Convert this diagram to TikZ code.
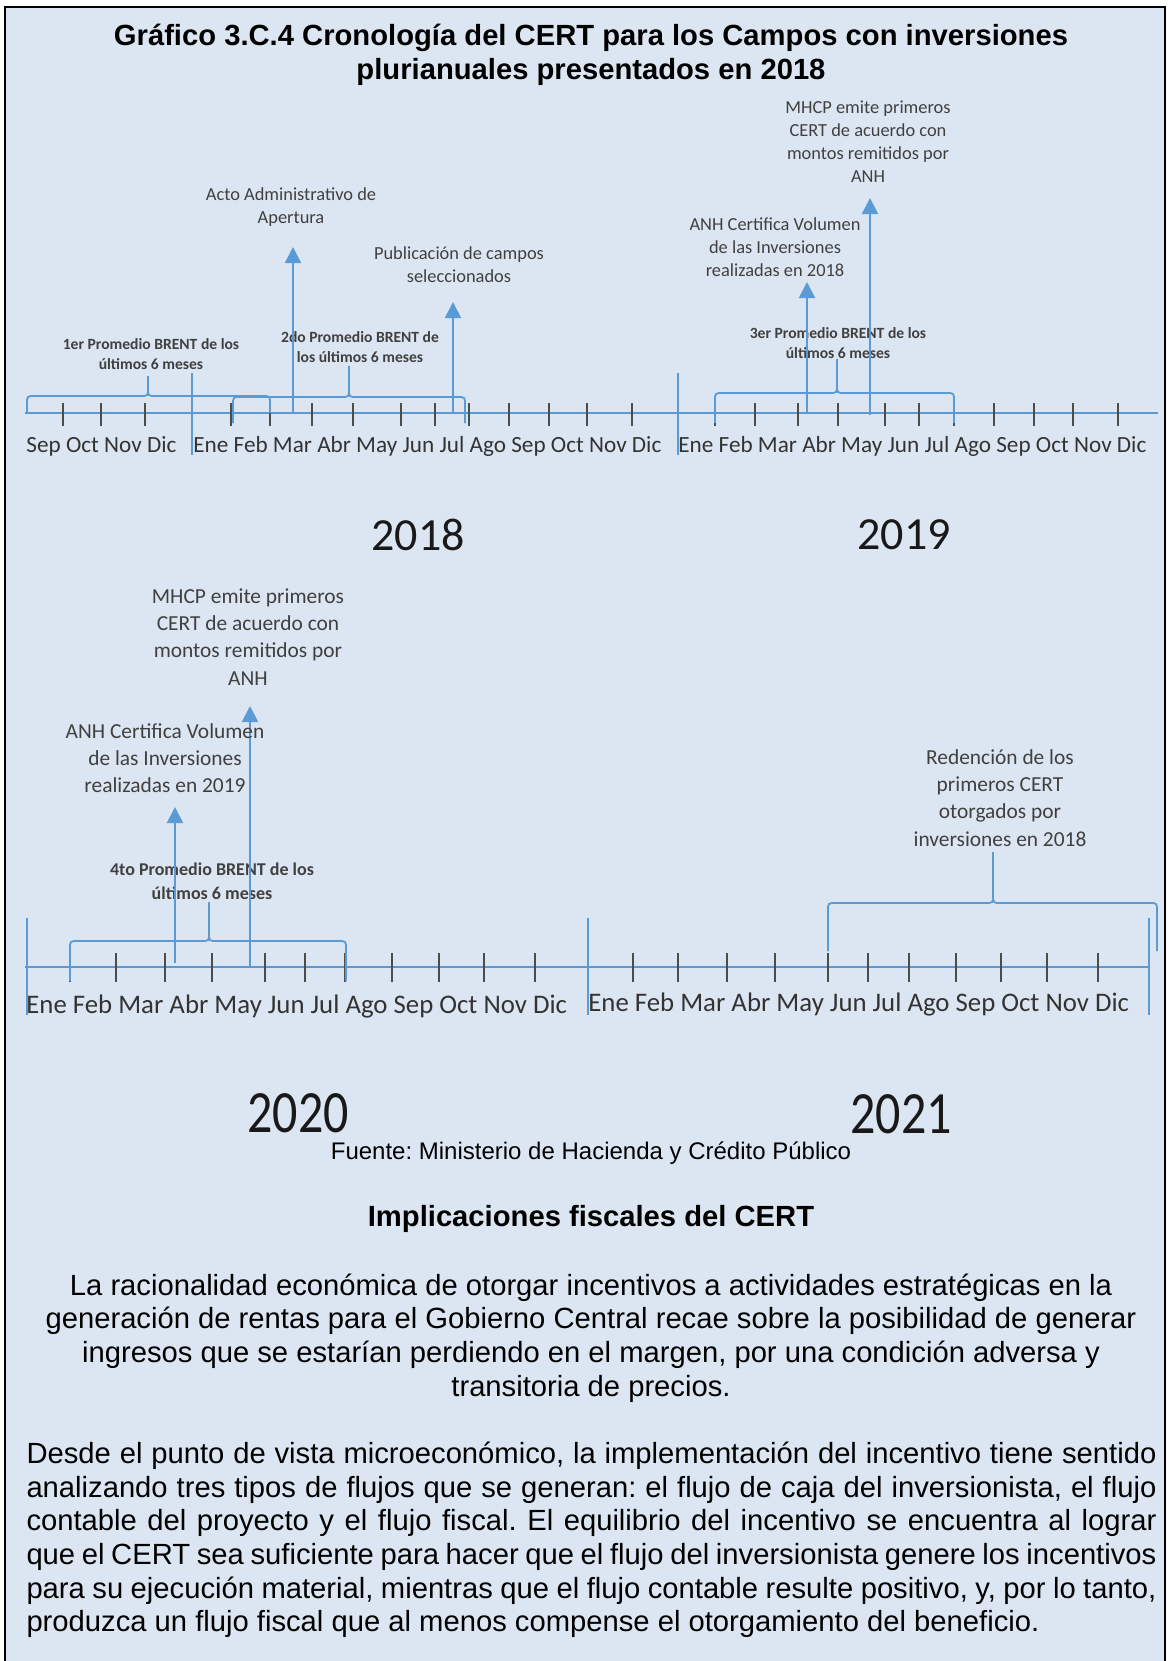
\documentclass[tikz,border=0pt]{standalone}
\usepackage{fontspec}
\setmainfont{Liberation Sans}
\newfontfamily\carlito{Carlito}
\usetikzlibrary{arrows.meta}
\frenchspacing

\definecolor{panelfill}{RGB}{220,230,242}
\definecolor{lineblue}{RGB}{91,155,213}
\definecolor{labelgray}{RGB}{64,64,64}

\tikzset{
  axisline/.style={lineblue, line width=1pt},
  tickmark/.style={black!70, line width=0.7pt},
  yearsep/.style={lineblue, line width=1.4pt},
  eventarrow/.style={lineblue, line width=1pt, -{Triangle[width=8pt,length=8pt]}},
  bracestyle/.style={lineblue, line width=0.9pt},
  evlabel/.style={text=labelgray, align=center, inner sep=0pt, font=\carlito\fontsize{9.2}{11.5}\selectfont},
  evlabelbig/.style={evlabel, font=\carlito\fontsize{10.7}{13.6}\selectfont},
  brentlabel/.style={evlabel, font=\carlito\bfseries\fontsize{7.8}{10}\selectfont},
  brentlabelbig/.style={evlabel, font=\carlito\bfseries\fontsize{9}{12}\selectfont},
  monthrow/.style={text=black!80, inner sep=0pt, anchor=west, font=\carlito\fontsize{11.6}{13}\selectfont},
  monthrowbig/.style={monthrow, font=\carlito\fontsize{13.4}{15}\selectfont},
  yearlabel/.style={text=black!90, inner sep=0pt, font=\carlito\fontsize{23}{26}\selectfont},
  yearlabelbig/.style={yearlabel, font=\carlito\fontsize{25}{28}\selectfont, yscale=1.2},
  bodytext/.style={inner sep=0pt, align=center, font=\fontsize{14.6}{16.85}\selectfont}
}

% brace: left x, right x, tip x, line y, end y, tip y
\newcommand{\cronobrace}[6]{%
  \draw[bracestyle] (#1,#5) -- (#1,#4+8) .. controls (#1,#4) .. (#1+8,#4)
    -- (#3-8,#4) .. controls (#3,#4) .. (#3,#4-8) -- (#3,#6)
    (#3,#4-8) .. controls (#3,#4) .. (#3+8,#4)
    -- (#2-8,#4) .. controls (#2,#4) .. (#2,#4+8) -- (#2,#5);
}
\newcommand{\fullline}[1]{\makebox[565pt][s]{#1}}

\begin{document}
\begin{tikzpicture}[x=0.5pt,y=-0.5pt]
\useasboundingbox (0,0) rectangle (1169,1661);
\fill[white] (0,0) rectangle (1169,1661);
\draw[black, line width=1pt, fill=panelfill] (5,7) rectangle (1165,1690);

% title
\node[bodytext, font=\bfseries\fontsize{14.6}{17}\selectfont] (title) at (591,55)
  {Gráfico 3.C.4 Cronología del CERT para los Campos con inversiones\\plurianuales presentados en 2018};

% ---------- timeline 2018-2019 ----------
\draw[axisline] (25,413) -- (1158,413);
\foreach \tx in {63,101,145,231,270,312,353,401,435,469,509,549,587,632,715,755,798,838,885,919,954,994,1034,1073,1118}
  \draw[tickmark] (\tx,403) -- (\tx,426);
\foreach \sx in {192,678}
  \draw[yearsep] (\sx,373) -- (\sx,455);

\node[monthrow] (m17) at (26,446) {Sep Oct Nov Dic};
\node[monthrow] (m18) at (193,446) {Ene Feb Mar Abr May Jun Jul Ago Sep Oct Nov Dic};
\node[monthrow] (m19) at (678,446) {Ene Feb Mar Abr May Jun Jul Ago Sep Oct Nov Dic};
\node[yearlabel] (y18) at (418,535) {2018};
\node[yearlabel] (y19) at (904,535) {2019};

\cronobrace{27}{270}{148}{396}{413}{376}
\cronobrace{233}{465}{349}{397}{423}{366}
\cronobrace{715}{954}{837}{393}{423}{359}

\node[brentlabel] (brent1) at (151,354) {1er Promedio BRENT de los\\últimos 6 meses};
\node[brentlabel] (brent2) at (360,347) {2do Promedio BRENT de\\los últimos 6 meses};
\node[brentlabel] (brent3) at (838,343) {3er Promedio BRENT de los\\últimos 6 meses};

\coordinate (actoBase) at (293,413);   \coordinate (actoTip) at (293,247);
\coordinate (pubBase) at (453,412);    \coordinate (pubTip) at (453,302);
\coordinate (anhaBase) at (807,412);   \coordinate (anhaTip) at (807,282);
\coordinate (mhcpaBase) at (870,415);  \coordinate (mhcpaTip) at (870,198);
\draw[eventarrow] (actoBase) -- (actoTip);
\draw[eventarrow] (pubBase) -- (pubTip);
\draw[eventarrow] (anhaBase) -- (anhaTip);
\draw[eventarrow] (mhcpaBase) -- (mhcpaTip);

\node[evlabel] (acto) at (291,207) {Acto Administrativo de\\Apertura};
\node[evlabel] (pub) at (459,265) {Publicación de campos\\seleccionados};
\node[evlabel] (anha) at (775,247) {ANH Certifica Volumen\\de las Inversiones\\realizadas en 2018};
\node[evlabel] (mhcpa) at (868,142) {MHCP emite primeros\\CERT de acuerdo con\\montos remitidos por\\ANH};

% ---------- timeline 2020-2021 ----------
\draw[axisline] (25,967) -- (1149,967);
\foreach \tx in {70,116,165,212,265,305,345,392,439,484,535,633,678,727,775,828,868,909,956,1001,1047,1098}
  \draw[tickmark] (\tx,953) -- (\tx,982);
\foreach \sx in {27,588,1149}
  \draw[yearsep] (\sx,918) -- (\sx,1015);

\node[monthrowbig] (m20) at (26,1006) {Ene Feb Mar Abr May Jun Jul Ago Sep Oct Nov Dic};
\node[monthrowbig] (m21) at (588,1004) {Ene Feb Mar Abr May Jun Jul Ago Sep Oct Nov Dic};
\node[yearlabelbig] (y20) at (298,1113) {2020};
\node[yearlabelbig] (y21) at (901,1114) {2021};

\cronobrace{70}{346}{209}{941}{981}{902}
\cronobrace{828}{1157}{993}{903}{951}{852}

\node[brentlabelbig] (brent4) at (212,881) {4to Promedio BRENT de los\\últimos 6 meses};

\coordinate (anhbBase) at (175,963);   \coordinate (anhbTip) at (175,807);
\coordinate (mhcpbBase) at (250,968);  \coordinate (mhcpbTip) at (250,706);
\draw[eventarrow] (anhbBase) -- (anhbTip);
\draw[eventarrow] (mhcpbBase) -- (mhcpbTip);

\node[evlabelbig] (anhb) at (165,758) {ANH Certifica Volumen\\de las Inversiones\\realizadas en 2019};
\node[evlabelbig] (mhcpb) at (248,637) {MHCP emite primeros\\CERT de acuerdo con\\montos remitidos por\\ANH};
\node[evlabelbig] (reden) at (1000,798) {Redención de los\\primeros CERT\\otorgados por\\inversiones en 2018};

% ---------- text below ----------
\node[bodytext, font=\fontsize{12}{14}\selectfont] (fuente) at (591,1153)
  {Fuente: Ministerio de Hacienda y Crédito Público};
\node[bodytext, font=\bfseries\fontsize{14.6}{17}\selectfont] (implic) at (591,1219)
  {Implicaciones fiscales del CERT};
\node[bodytext] (parauno) at (591,1338)
  {La racionalidad económica de otorgar incentivos a actividades estratégicas en la\\
   generación de rentas para el Gobierno Central recae sobre la posibilidad de generar\\
   ingresos que se estarían perdiendo en el margen, por una condición adversa y\\
   transitoria de precios.};
\node[bodytext, align=left] (parados) at (591.5,1540)
  {\fullline{Desde el punto de vista microeconómico, la implementación del incentivo tiene sentido}\\
   \fullline{analizando tres tipos de flujos que se generan: el flujo de caja del inversionista, el flujo}\\
   \fullline{contable del proyecto y el flujo fiscal. El equilibrio del incentivo se encuentra al lograr}\\
   \fullline{que el CERT sea suficiente para hacer que el flujo del inversionista genere los incentivos}\\
   \fullline{para su ejecución material, mientras que el flujo contable resulte positivo, y, por lo tanto,}\\
   \makebox[565pt][l]{produzca un flujo fiscal que al menos compense el otorgamiento del beneficio.}};

\end{tikzpicture}
\end{document}
